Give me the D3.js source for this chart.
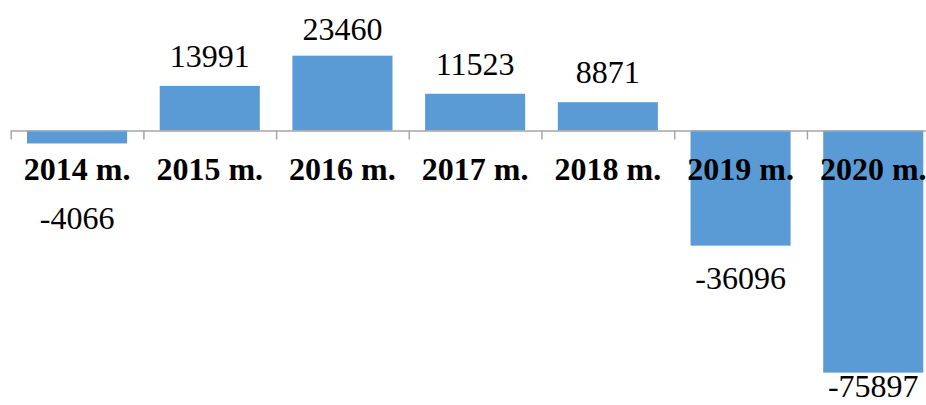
<!DOCTYPE html>
<html>
<head>
<meta charset="utf-8">
<script src="https://cdn.jsdelivr.net/npm/d3@7"></script>
<style>
  html, body { margin: 0; padding: 0; background: #fff; }
  svg { display: block; }
  .axis path, .axis line { stroke: #a6a6a6; stroke-width: 1.5; }
</style>
</head>
<body>
<main></main>
<script>
"use strict";

//Chart data
const years = ["2014 m.", "2015 m.", "2016 m.", "2017 m.", "2018 m.", "2019 m.", "2020 m."];
const values = [-4066, 13991, 23460, 11523, 8871, -36096, -75897];

const w = 926;
const h = 405;

const svg = d3.select("main").append("svg").attr("width", w).attr("height", h);

//Scales
const left = 10.7;
const step = 132.7;
const x = d3.scaleBand().domain(years).range([left, left + step * years.length])
  .paddingInner(0.246).paddingOuter(0.123);
const y = d3.scaleLinear().domain([-80000, 40000]).range([385.7, 2.9]);
const edges = d3.scaleLinear().domain([0, years.length]).range([left, left + step * years.length]);

//Bars
svg.append("g")
  .selectAll("rect")
  .data(values)
  .enter()
  .append("rect")
  .attr("x", (d, i) => x(years[i]))
  .attr("width", x.bandwidth())
  .attr("y", (d) => y(Math.max(0, d)))
  .attr("height", (d) => Math.abs(y(d) - y(0)))
  .attr("fill", "#5b9bd5");

//Axis with ticks between categories
svg.append("g")
  .attr("class", "axis")
  .attr("transform", `translate(0, ${y(0)})`)
  .call(d3.axisBottom(edges).tickValues(d3.range(years.length + 1)).tickFormat("").tickSize(9).tickSizeOuter(0));

//Category labels
svg.append("g")
  .selectAll("text")
  .data(years)
  .enter()
  .append("text")
  .attr("x", (d) => x(d) + x.bandwidth() / 2)
  .attr("y", 180)
  .attr("text-anchor", "middle")
  .attr("font-family", "'Liberation Serif', 'Times New Roman', serif")
  .attr("font-weight", "bold")
  .attr("font-size", 32)
  .attr("fill", "#000")
  .text((d) => d);

//Value labels
svg.append("g")
  .selectAll("text")
  .data(values)
  .enter()
  .append("text")
  .attr("x", (d, i) => x(years[i]) + x.bandwidth() / 2)
  .attr("y", (d) => d >= 0 ? Math.max(40, y(d) - 19) : Math.min(397, Math.max(y(d), 186) + 43))
  .attr("text-anchor", "middle")
  .attr("font-family", "'Liberation Serif', 'Times New Roman', serif")
  .attr("font-size", 32)
  .attr("fill", "#000")
  .text((d) => d);
</script>
</body>
</html>
